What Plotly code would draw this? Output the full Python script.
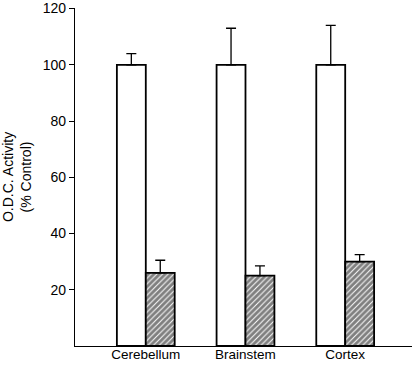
import plotly.graph_objects as go

regions = ["Cerebellum", "Brainstem", "Cortex"]
control_vals = [100, 100, 100]
control_err = [4, 13, 14]
treated_vals = [26, 25, 30]
treated_err = [4.5, 3.5, 2.5]
y_ticks = [20, 40, 60, 80, 100, 120]

xpos = list(range(len(regions)))
FONT = "Liberation Sans"

fig = go.Figure()
fig.add_trace(go.Bar(
    x=xpos, y=control_vals, name="Control",
    marker=dict(color="white", line=dict(color="black", width=1.8)),
    error_y=dict(type="data", symmetric=False, array=control_err,
                 arrayminus=[0] * 3, color="black", thickness=1.3, width=5),
))
fig.add_trace(go.Bar(
    x=xpos, y=treated_vals, name="Treated",
    marker=dict(color="white", line=dict(color="black", width=1.8),
                pattern=dict(shape="/", fgcolor="black", bgcolor="white",
                             size=4, solidity=0.75)),
    error_y=dict(type="data", symmetric=False, array=treated_err,
                 arrayminus=[0] * 3, color="black", thickness=1.3, width=5),
))

fig.update_layout(
    width=415, height=366,
    margin=dict(l=75, r=3, t=8, b=20),
    barmode="group", bargap=0.42, bargroupgap=0,
    showlegend=False,
    plot_bgcolor="white", paper_bgcolor="white",
    font=dict(family=FONT, color="black", size=13),
)
fig.update_xaxes(
    range=[-0.71, 2.67], tickvals=xpos, ticktext=regions,
    showline=True, linecolor="black", linewidth=1.3,
    ticks="", showgrid=False, zeroline=False, automargin=False,
    tickfont=dict(size=13.5), ticklabelstandoff=-4,
    ticklabeloverflow="allow",
)
fig.update_yaxes(
    range=[0, 120.2], tickvals=y_ticks,
    showline=True, linecolor="black", linewidth=1.3,
    ticks="outside", ticklen=5, tickwidth=1.2, tickcolor="black",
    showgrid=False, zeroline=False, automargin=False,
    tickfont=dict(size=14), ticklabeloverflow="allow",
    title=dict(text="O.D.C. Activity<br>(% Control)", font=dict(size=14), standoff=10),
)

fig.write_html("out.html", config={"displayModeBar": False},
               post_script="document.body.style.margin='0';")
